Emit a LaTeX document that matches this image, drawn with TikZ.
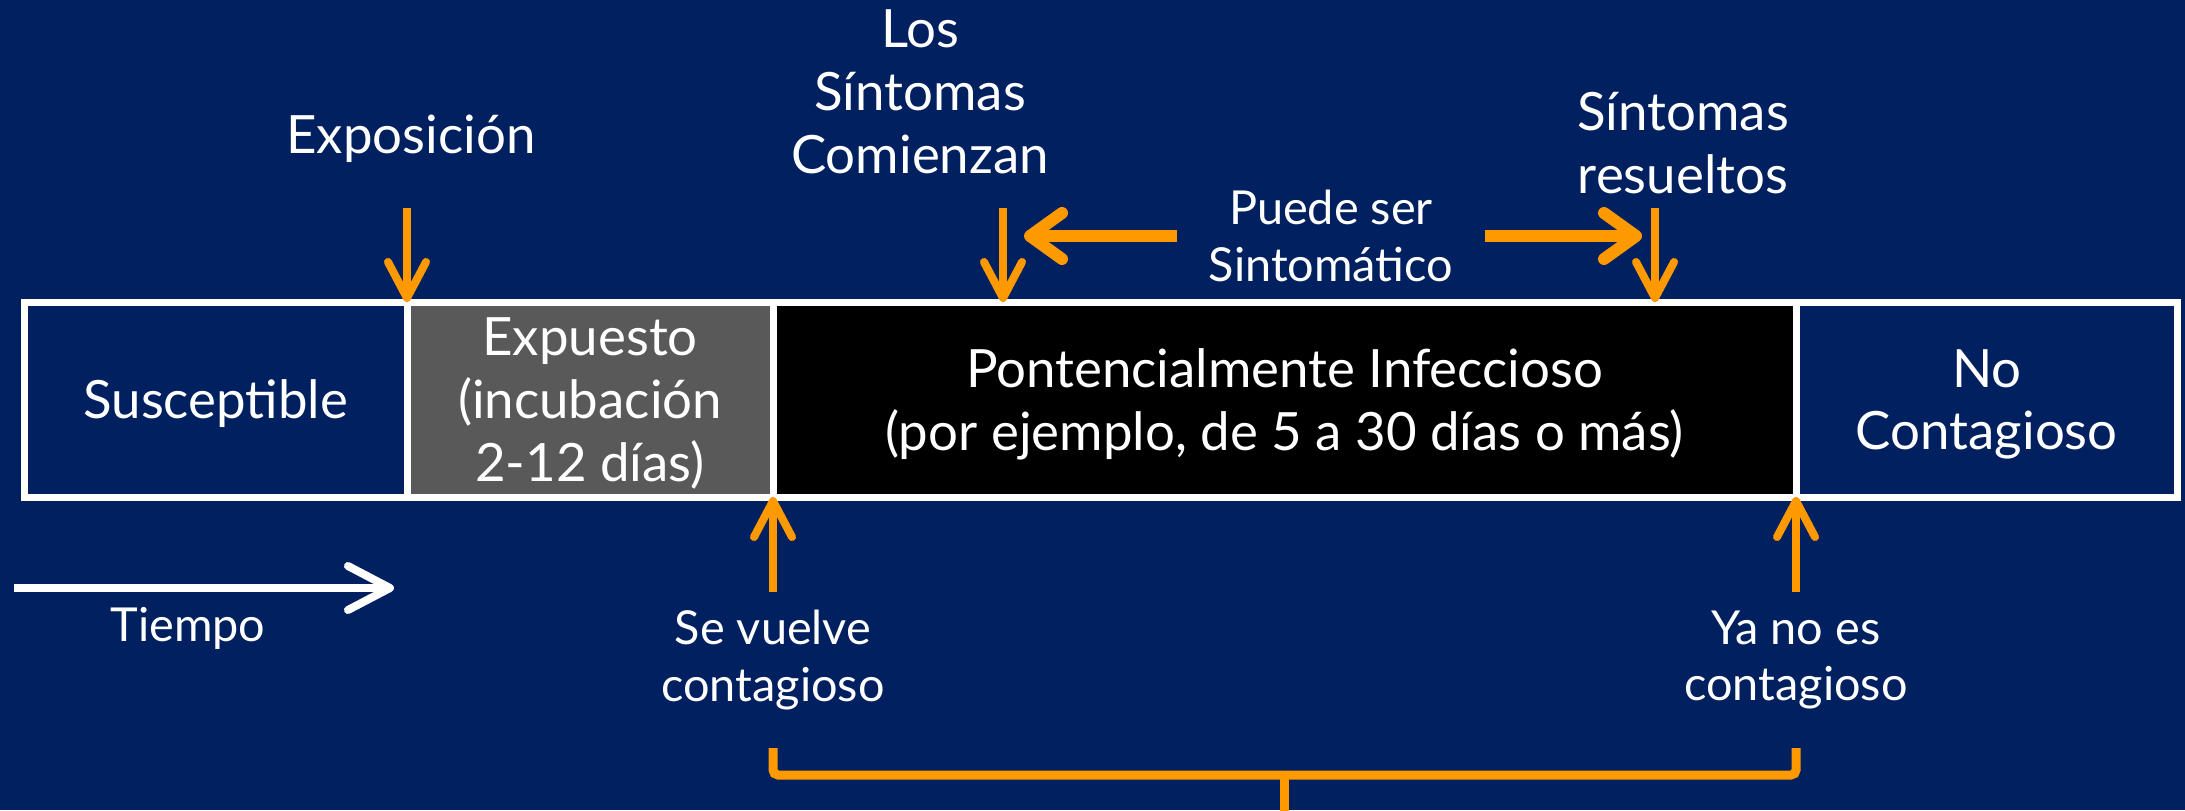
\documentclass[tikz,border=0pt]{standalone}
\usepackage{fontspec}
\setmainfont{Lato}
\usetikzlibrary{positioning, arrows.meta}

\definecolor{navy}{HTML}{012060}
\definecolor{expgray}{HTML}{595959}
\definecolor{orng}{HTML}{FF9900}

\newcommand{\bigtxt}{\fontsize{53}{63}\selectfont}
\newcommand{\smalltxt}{\fontsize{47}{57}\selectfont}

\tikzset{
  stage/.style={draw=white, line width=7bp, minimum height=195bp,
    inner sep=0pt, outer sep=0pt, align=center, text=white, font=\bigtxt,
    text depth=-4bp},
  lbl/.style={text=white, align=center, inner sep=0pt},
  varr/.style={orng, line width=8bp,
    -{Straight Barb[length=36bp, width=38bp, round]}},
  harr/.style={orng, line width=12bp,
    -{Straight Barb[length=32bp, width=46bp, round]}},
  tarr/.style={white, line width=8bp,
    -{Straight Barb[length=42bp, width=44bp, round]}},
  brc/.style={orng, line width=9bp, rounded corners=5bp}
}

\begin{document}
\begin{tikzpicture}[x=1bp, y=1bp]
    \useasboundingbox (0,0) rectangle (2185,-810);%
    \fill [navy] (0,0) rectangle (2185,-810);%

    % Stages
    \node [stage, fill=navy, minimum width=382.5bp] (Sus) at (215.75,-399.5)
    {Susceptible};%
    \node [stage, fill=expgray, minimum width=366bp, right=0pt of Sus] (Exp)
    {Expuesto\\(incubación\\2-12 días)};%
    \node [stage, fill=black, minimum width=1023bp, right=0pt of Exp] (Pot)
    {Pontencialmente Infeccioso\\(por ejemplo, de 5 a 30 días o más)};%
    \node [stage, fill=navy, minimum width=381.5bp, right=0pt of Pot] (NoC)
    {No\\Contagioso};%

    % Exposure
    \node [lbl, font=\bigtxt] (Expo) at (411,-139) {Exposición};%
    \draw [varr] ([yshift=94bp]Exp.north west) -- (Exp.north west);%

    % Symptoms
    \coordinate (onset) at ([xshift=230bp]Pot.north west);%
    \coordinate (resolved) at ([xshift=-141bp]Pot.north east);%
    \node [lbl, font=\bigtxt] (SintC) at (920,-92) {Los\\Síntomas\\Comienzan};%
    \node [lbl, font=\bigtxt] (SintR) at (1683,-143) {Síntomas\\resueltos};%
    \node [lbl, font=\smalltxt] (Puede) at (1331,-236) {Puede ser\\Sintomático};%
    \draw [varr] ([yshift=94bp]onset) -- (onset);%
    \draw [varr] ([yshift=94bp]resolved) -- (resolved);%
    \draw [harr] ([xshift=-32bp]Puede.west) -- ([xshift=21bp]Puede.west -| onset);%
    \draw [harr] ([xshift=32bp]Puede.east) -- ([xshift=-13bp]Puede.east -| resolved);%

    % Contagious
    \node [lbl, font=\smalltxt] (Vuelve) at (773,-660) {Se vuelve\\contagioso};%
    \node [lbl, font=\smalltxt] (YaNo) at (1796,-660) {Ya no es\\contagioso};%
    \draw [varr] ([yshift=-95bp]Pot.south west) -- (Pot.south west);%
    \draw [varr] ([yshift=-95bp]Pot.south east) -- (Pot.south east);%

    % Time
    \node [lbl, font=\smalltxt] (Tiempo) at (188,-628) {Tiempo};%
    \coordinate (t0) at (14,-588);%
    \coordinate (t1) at (394,-588);%
    \draw [tarr] (t0) -- (t1);%

    % Brace
    \draw [brc] ([yshift=-251bp]Pot.south west) -- ([yshift=-278bp]Pot.south west)
    -- ([yshift=-278bp]Pot.south east) -- ([yshift=-251bp]Pot.south east);%
    \draw [orng, line width=9bp] ([yshift=-276bp]Pot.south) -- ([yshift=-330bp]Pot.south);%
  \end{tikzpicture}
\end{document}
